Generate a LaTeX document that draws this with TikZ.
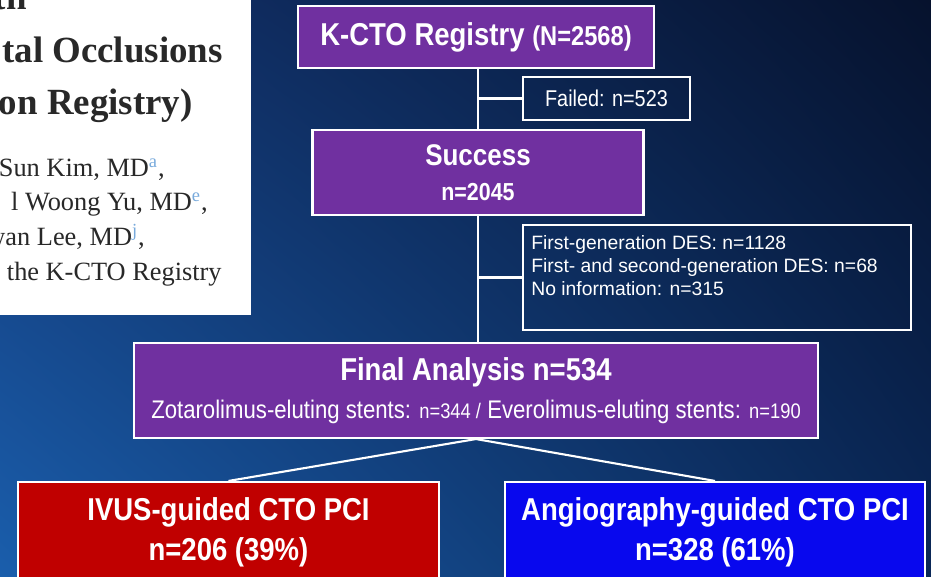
\documentclass[tikz,border=0pt]{standalone}
\usepackage{fontspec}
\setmainfont{Liberation Serif}
\newfontfamily\condsf[FakeStretch=0.87]{Liberation Sans}
\newfontfamily\plainsf{Liberation Sans}
\usepackage{tikz}
\usetikzlibrary{positioning, calc, shadings}
\definecolor{ctopurple}{RGB}{112, 48, 160}
\definecolor{ivusred}{RGB}{192, 0, 0}
\definecolor{angioblue}{RGB}{8, 8, 238}
\definecolor{bgtopleft}{RGB}{18, 52, 112}
\definecolor{bgtopright}{RGB}{6, 18, 45}
\definecolor{bgbotleft}{RGB}{26, 94, 172}
\definecolor{bgbotright}{RGB}{10, 40, 88}
\definecolor{papertext}{RGB}{40, 40, 40}
\definecolor{reflink}{RGB}{120, 170, 220}

\begin{document}
\begin{tikzpicture}[x=0.02cm, y=-0.02cm,
    box/.style={draw=white, line width=1.2pt, text=white, inner sep=0pt, align=center},
    flowbox/.style={box, fill=ctopurple},
    notebox/.style={box, font=\condsf},
    armbox/.style={box, minimum width=8.42cm, minimum height=2cm,
                   font=\condsf\bfseries\fontsize{18}{22.7}\selectfont},
    link/.style={white, line width=1.2pt},
    papertitle/.style={anchor=base east, inner sep=0pt, text=papertext,
                       font=\bfseries\fontsize{21}{24}\selectfont},
    paperauthor/.style={anchor=base east, inner sep=0pt, text=papertext,
                        font=\fontsize{15}{17}\selectfont}]
    \clip (0,0) rectangle (931,577);

    % Background
    \shade[upper left=bgtopleft, upper right=bgtopright,
           lower left=bgbotleft, lower right=bgbotright] (0,0) rectangle (931,577);

    % Cut-out of the paper header
    \fill[white] (0,0) rectangle (251,315);
    \begin{scope}
        \clip (0,0) rectangle (251,315);
        \node[papertitle] (ttop) at (27,10) {with};
        \node[papertitle] (tocc) at (223,63) {tal Occlusions};
        \node[papertitle] (treg) at (193,115) {on Registry)};
        \node[paperauthor] (au1) at (165,177) {Sun Kim, MD\textsuperscript{\textcolor{reflink}{a}},};
        \node[paperauthor] (au2) at (208,211) {l Woong Yu, MD\textsuperscript{\textcolor{reflink}{e}},};
        \node[paperauthor] (au3) at (145,246) {wan Lee, MD\textsuperscript{\textcolor{reflink}{j}},};
        \node[paperauthor] (au4) at (222,281) {the K-CTO Registry};
    \end{scope}

    % Patient flow
    \node[flowbox, minimum width=7.12cm, minimum height=1.24cm,
          font=\condsf\bfseries\fontsize{18}{20}\selectfont] (reg) at (476,37)
        {K-CTO Registry {\fontsize{15.5}{20}\selectfont(N=2568)}};
    \node[notebox, minimum width=3.34cm, minimum height=0.86cm] (fail) at (606.5,98.5)
        {\fontsize{13}{15}\selectfont Failed: n=523};
    \node[flowbox, minimum width=6.62cm, minimum height=1.7cm,
          font=\condsf\bfseries\fontsize{17}{19.8}\selectfont] (succ) at (478,172.5)
        {Success\\{\fontsize{14}{19.8}\selectfont n=2045}};
    \node[box, minimum width=7.76cm, minimum height=2.1cm] (des) at (717,277.5) {};
    \node[anchor=north west, inner sep=0pt, text=white, align=left,
          font=\plainsf\fontsize{11}{13.2}\selectfont] (destxt) at ([shift={(9,11)}]des.north west)
        {First-generation DES: n=1128\\First- and second-generation DES: n=68\\No information: n=315};
    \node[flowbox, minimum width=13.68cm, minimum height=1.9cm,
          font=\condsf\bfseries\fontsize{18}{21.5}\selectfont] (fin) at (476,390.5)
        {Final Analysis n=534\\
         {\mdseries\fontsize{14.5}{21.5}\selectfont Zotarolimus-eluting stents: {\fontsize{12}{21.5}\selectfont n=344 /}
         Everolimus-eluting stents: {\fontsize{12}{21.5}\selectfont n=190}}};
    \node[armbox, fill=ivusred] (ivus) at (228.5,532) {IVUS-guided CTO PCI\\n=206 (39\%)};
    \node[armbox, fill=angioblue, minimum width=8.4cm] (angio) at (715,532) {Angiography-guided CTO PCI\\n=328 (61\%)};

    % Connectors
    \draw[link] (succ.north |- reg.south) -- (succ.north);
    \draw[link] (succ.north |- fail.west) -- (fail.west);
    \draw[link] (succ.south) -- (succ.south |- fin.north);
    \draw[link] (succ.south |- des.west) -- (des.west);
    \draw[link] (fin.south) -- (ivus.north);
    \draw[link] (fin.south) -- (angio.north);
\end{tikzpicture}
\end{document}
